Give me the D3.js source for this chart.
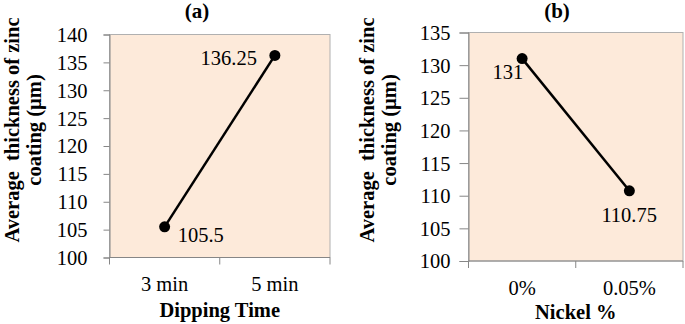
<!DOCTYPE html>
<html>
<head>
<meta charset="utf-8">
<script src="https://cdn.jsdelivr.net/npm/d3@7"></script>
<style>
  body { margin: 0; background: #fff; }
</style>
</head>
<body>
<div id="chart"></div>
<script>
// panel (a)
const dipCategories = ['3 min', '5 min'];
const dipValues = [105.5, 136.25];
const dipTicks = [100, 105, 110, 115, 120, 125, 130, 135, 140];

// panel (b)
const nickelCategories = ['0%', '0.05%'];
const nickelValues = [131, 110.75];
const nickelTicks = [100, 105, 110, 115, 120, 125, 130, 135];

const yTitle = ['Average  thickness of zinc', 'coating (\u00b5m)'];

const FONT = '"Liberation Serif", "Times New Roman", serif';
const FS = '20.5px';

const svg = d3.select('#chart').append('svg')
  .attr('width', 685)
  .attr('height', 324);

function panel(opts){
  const m = opts.box;
  const x = d3.scaleBand()
    .domain(opts.categories)
    .range([m.left, m.right]);
  const y = d3.scaleLinear()
    .domain(d3.extent(opts.ticks))
    .range([m.bottom, m.top]);

  const g = svg.append('g');

  // plot area
  g.append('rect')
    .attr('x', m.left)
    .attr('y', m.top)
    .attr('width', m.right - m.left)
    .attr('height', m.bottom - m.top)
    .attr('fill', '#fdeada')
    .attr('stroke', '#b0b0b0')
    .attr('stroke-width', 1);

  const yAxis = d3.axisLeft(y)
    .tickValues(opts.ticks)
    .tickSize(opts.tickLen)
    .tickPadding(opts.tickPad);
  const ya = g.append('g')
    .attr('transform', `translate(${m.left},0)`)
    .call(yAxis);
  ya.attr('font-family', null).attr('font-size', null);
  ya.select('.domain').attr('stroke', '#868686');
  ya.selectAll('.tick line').attr('stroke', '#868686');
  ya.selectAll('.tick text')
    .attr('dy', '0.34em')
    .style('font-family', FONT)
    .style('font-size', FS);

  // x axis, ticks on the band edges
  const xa = g.append('g')
    .attr('transform', `translate(0,${m.bottom})`);
  xa.append('path')
    .attr('d', `M${m.left},0H${m.right}`)
    .attr('stroke', '#868686');
  const bounds = opts.categories.map(c => x(c)).concat([m.right]);
  xa.selectAll('line').data(bounds).join('line')
    .attr('x1', d => d).attr('x2', d => d)
    .attr('y1', 0).attr('y2', 7)
    .attr('stroke', '#868686');
  xa.selectAll('text').data(opts.categories).join('text')
    .attr('x', d => x(d) + x.bandwidth()/2)
    .attr('y', opts.xLabelY - m.bottom)
    .attr('text-anchor', 'middle')
    .style('font-family', FONT)
    .style('font-size', FS)
    .text(d => d);

  // line + markers
  const pts = opts.categories.map((c, i) => [x(c) + x.bandwidth()/2, y(opts.values[i])]);
  g.append('path')
    .datum(pts)
    .attr('d', d3.line())
    .attr('fill', 'none')
    .attr('stroke', '#000')
    .attr('stroke-width', 2.5);
  g.selectAll('circle.pt').data(pts).join('circle')
    .attr('class', 'pt')
    .attr('cx', d => d[0])
    .attr('cy', d => d[1])
    .attr('r', 5.5)
    .attr('fill', '#000');

  // value labels
  g.selectAll('text.val').data(pts).join('text')
    .attr('class', 'val')
    .attr('x', (d, i) => d[0] + opts.labelOffsets[i][0])
    .attr('y', (d, i) => d[1] + opts.labelOffsets[i][1])
    .attr('text-anchor', (d, i) => opts.labelOffsets[i][2])
    .style('font-family', FONT)
    .style('font-size', FS)
    .text((d, i) => opts.values[i]);

  // titles
  g.append('text')
    .attr('x', opts.titleX)
    .attr('y', 18)
    .attr('text-anchor', 'middle')
    .style('font-family', FONT)
    .style('font-size', '21px')
    .style('font-weight', 'bold')
    .text(opts.title);

  g.append('text')
    .attr('x', (m.left + m.right)/2)
    .attr('y', opts.xTitleY)
    .attr('text-anchor', 'middle')
    .style('font-family', FONT)
    .style('font-size', FS)
    .style('font-weight', 'bold')
    .text(opts.xTitle);

  g.selectAll('text.ytitle').data(yTitle).join('text')
    .attr('class', 'ytitle')
    .attr('transform', (d, i) => `translate(${opts.yTitleX + i*22},${opts.yTitleY}) rotate(-90)`)
    .attr('text-anchor', 'middle')
    .style('font-family', FONT)
    .style('font-size', FS)
    .style('font-weight', 'bold')
    .style('white-space', 'pre')
    .text(d => d);
}

panel({
  box: {left: 109.5, right: 330, top: 34.5, bottom: 257.5},
  categories: dipCategories,
  values: dipValues,
  ticks: dipTicks,
  tickLen: 6,
  tickPad: 16,
  labelOffsets: [[13, 15, 'start'], [-18, 10, 'end']],
  title: '(a)',
  titleX: 197,
  xLabelY: 291,
  xTitle: 'Dipping Time',
  xTitleY: 317,
  yTitleX: 19,
  yTitleY: 130
});

panel({
  box: {left: 468.5, right: 683, top: 32.5, bottom: 261},
  categories: nickelCategories,
  values: nickelValues,
  ticks: nickelTicks,
  tickLen: 9,
  tickPad: 9,
  labelOffsets: [[1, 20, 'end'], [-28, 31, 'start']],
  title: '(b)',
  titleX: 557,
  xLabelY: 295,
  xTitle: 'Nickel %',
  xTitleY: 319,
  yTitleX: 374,
  yTitleY: 130
});
</script>
</body>
</html>
